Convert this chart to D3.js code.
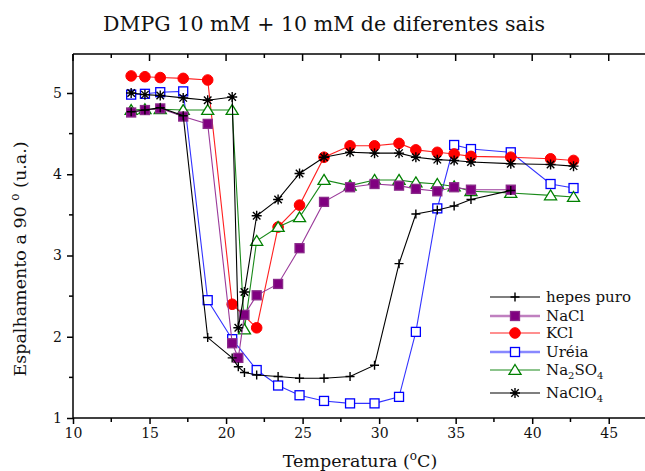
<!DOCTYPE html>
<html><head><meta charset="utf-8">
<script src="https://cdn.jsdelivr.net/npm/d3@7"></script>
<style>body{margin:0;background:#fff}svg{display:block}text{font-family:"DejaVu Serif",serif;fill:#111}</style>
</head><body><svg id="c" width="645" height="471"></svg>
<script>
const temps = [13.8,14.7,15.7,17.2,18.8,20.4,20.8,21.2,22.0,23.4,24.8,26.4,28.1,29.7,31.3,32.4,33.8,34.9,36.0,38.6,41.2,42.7];
const hepes  = [4.77,4.79,4.82,4.72,1.99,1.74,1.63,1.56,1.53,1.51,1.49,1.49,1.51,1.65,2.90,3.51,3.56,3.61,3.69,3.80,null,null];
const nacl   = [4.76,4.79,4.81,4.71,4.62,1.92,1.74,2.27,2.51,2.65,3.09,3.66,3.84,3.88,3.86,3.82,3.79,3.84,3.81,3.81,null,null];
const kcl    = [5.21,5.20,5.19,5.18,5.16,2.40,null,null,2.11,3.35,3.62,4.21,4.35,4.35,4.38,4.30,4.27,4.25,4.22,4.21,4.19,4.17];
const ureia  = [4.98,4.99,5.01,5.02,2.45,1.97,null,null,1.59,1.40,1.28,1.21,1.18,1.18,1.26,2.06,3.58,4.36,4.31,4.27,3.88,3.83];
const na2so4 = [4.79,4.80,4.80,4.79,4.79,4.79,null,2.09,3.18,3.35,3.47,3.93,3.86,3.93,3.93,3.90,3.88,3.85,3.79,3.77,3.74,3.72];
const naclo4 = [5.00,4.98,4.97,4.94,4.91,4.95,2.11,2.55,3.49,3.69,4.01,4.21,4.27,4.26,4.26,4.21,4.18,4.17,4.15,4.13,4.12,4.10];
const xTicks = [10,15,20,25,30,35,40,45];
const yTicks = [1,2,3,4,5];

const series = [
  {name:"Uréia", vals:ureia, line:"#3333ff", mk:"square", fill:"#fff", stroke:"#0000ff", legLine:"#8888ff", legW:2.5},
  {name:"KCl", vals:kcl, line:"#ff2020", mk:"circle", fill:"#ff0000", stroke:"#ff0000", legLine:"#ff2020", legW:1.2},
  {name:"Na2SO4", vals:na2so4, line:"#1a8a1a", mk:"triangle", fill:"#fff", stroke:"#008000", legLine:"#1a8a1a", legW:1.2},
  {name:"NaCl", vals:nacl, line:"#9a3a9a", mk:"square", fill:"#800080", stroke:"#8a2a8a", legLine:"#c080c0", legW:2.5},
  {name:"NaClO4", vals:naclo4, line:"#000", mk:"star", fill:"none", stroke:"#000", legLine:"#000", legW:1.2},
  {name:"hepes puro", vals:hepes, line:"#000", mk:"plus", fill:"none", stroke:"#000", legLine:"#000", legW:1.2}
];
const legendOrder = ["hepes puro","NaCl","KCl","Uréia","Na2SO4","NaClO4"];

const svg = d3.select("#c");
const x = d3.scaleLinear().domain([10,47.5]).range([73,647]);
const y = d3.scaleLinear().domain([1,5.48]).range([418,54]);

function drawMarker(g, type, cx, cy, fill, stroke) {
  if (type==="circle") {
    g.append("circle").attr("cx",cx).attr("cy",cy).attr("r",5.3).attr("fill",fill).attr("stroke",stroke);
  } else if (type==="square") {
    g.append("rect").attr("x",cx-4.5).attr("y",cy-4.5).attr("width",9).attr("height",9)
      .attr("fill",fill).attr("stroke",stroke).attr("stroke-width",1.3);
  } else if (type==="triangle") {
    const h=5.5;
    g.append("path").attr("d",`M${cx},${cy-h}L${cx+h*1.1},${cy+h*0.8}L${cx-h*1.1},${cy+h*0.8}Z`)
      .attr("fill",fill).attr("stroke",stroke).attr("stroke-width",1.3);
  } else if (type==="plus") {
    const r=4.5;
    g.append("path").attr("d",`M${cx-r},${cy}H${cx+r}M${cx},${cy-r}V${cy+r}`).attr("stroke",stroke).attr("stroke-width",1.4);
  } else if (type==="star") {
    const r=5, d=r*0.75;
    g.append("path").attr("d",`M${cx-r},${cy}H${cx+r}M${cx},${cy-r}V${cy+r}M${cx-d},${cy-d}L${cx+d},${cy+d}M${cx-d},${cy+d}L${cx+d},${cy-d}`)
      .attr("stroke",stroke).attr("stroke-width",1.4);
  }
}

// Frame top line
svg.append("line").attr("x1",73).attr("x2",645).attr("y1",54).attr("y2",54).attr("stroke","#000").attr("stroke-width",1.5);
const minorX = d3.range(12.5,47.5,5);
xTicks.forEach(t=>svg.append("line").attr("x1",x(t)).attr("x2",x(t)).attr("y1",54).attr("y2",61).attr("stroke","#000").attr("stroke-width",1.5));
minorX.forEach(t=>svg.append("line").attr("x1",x(t)).attr("x2",x(t)).attr("y1",54).attr("y2",58).attr("stroke","#000").attr("stroke-width",1.5));

// bottom axis
const xAxis = d3.axisBottom(x).tickValues(xTicks).tickSize(6).tickPadding(4).tickFormat(d3.format("d"));
const gx = svg.append("g").attr("transform","translate(0,418)").call(xAxis);
gx.select(".domain").attr("d","M73,0H645").attr("stroke-width",1.5);
gx.selectAll(".tick line").attr("stroke-width",1.5);
gx.selectAll("text").attr("font-size",14).attr("font-family","DejaVu Serif").attr("fill","#111");
minorX.forEach(t=>gx.append("line").attr("x1",x(t)).attr("x2",x(t)).attr("y1",0).attr("y2",4).attr("stroke","#000").attr("stroke-width",1.5));

// left axis
const yAxis = d3.axisLeft(y).tickValues(yTicks).tickSize(6).tickPadding(5).tickFormat(d3.format("d"));
const gy = svg.append("g").attr("transform","translate(73,0)").call(yAxis);
gy.select(".domain").attr("d","M0,54V418").attr("stroke-width",1.5);
gy.selectAll(".tick line").attr("stroke-width",1.5);
gy.selectAll("text").attr("font-size",14).attr("font-family","DejaVu Serif").attr("fill","#111");
[1.5,2.5,3.5,4.5].forEach(t=>gy.append("line").attr("x1",0).attr("x2",-4).attr("y1",y(t)).attr("y2",y(t)).attr("stroke","#000").attr("stroke-width",1.5));

// series
const line = d3.line().x(d=>x(d[0])).y(d=>y(d[1]));
series.forEach(s=>{
  const pts = temps.map((t,i)=>[t,s.vals[i]]).filter(d=>d[1]!==null);
  const g = svg.append("g");
  g.append("path").attr("d",line(pts)).attr("fill","none").attr("stroke",s.line).attr("stroke-width",1.1);
  pts.forEach(p=>drawMarker(g,s.mk,x(p[0]),y(p[1]),s.fill,s.stroke));
});

// legend
const legY = [297,316,333,352,370,393];
legendOrder.forEach((n,i)=>{
  const s = series.find(d=>d.name===n);
  const g = svg.append("g");
  g.append("line").attr("x1",490).attr("x2",540).attr("y1",legY[i]).attr("y2",legY[i]).attr("stroke",s.legLine).attr("stroke-width",s.legW);
  drawMarker(g,s.mk,515,legY[i],s.fill,s.stroke);
  const t = g.append("text").attr("x",546).attr("y",legY[i]+5).attr("font-size",15);
  if (n==="Na2SO4") {
    t.append("tspan").text("Na");
    t.append("tspan").text("2").attr("font-size",10).attr("dy",4);
    t.append("tspan").text("SO").attr("dy",-4);
    t.append("tspan").text("4").attr("font-size",10).attr("dy",4);
  } else if (n==="NaClO4") {
    t.append("tspan").text("NaClO");
    t.append("tspan").text("4").attr("font-size",10).attr("dy",4);
  } else t.text(n);
});

// title
svg.append("text").attr("x",324).attr("y",31).attr("text-anchor","middle").attr("font-size",20.5)
  .attr("textLength",442).attr("lengthAdjust","spacing").text("DMPG 10 mM + 10 mM de diferentes sais");
// x label
const xl = svg.append("text").attr("x",360).attr("y",467).attr("text-anchor","middle").attr("font-size",17.5);
xl.append("tspan").text("Temperatura (");
xl.append("tspan").text("o").attr("font-size",12).attr("dy",-7);
xl.append("tspan").text("C)").attr("dy",7);
// y label
const yl = svg.append("text").attr("transform","translate(26,259) rotate(-90)").attr("text-anchor","middle").attr("font-size",17.5);
yl.append("tspan").text("Espalhamento a 90 ");
yl.append("tspan").text("o").attr("font-size",12).attr("dy",-7);
yl.append("tspan").text(" (u.a.)").attr("dy",7);
</script></body></html>
